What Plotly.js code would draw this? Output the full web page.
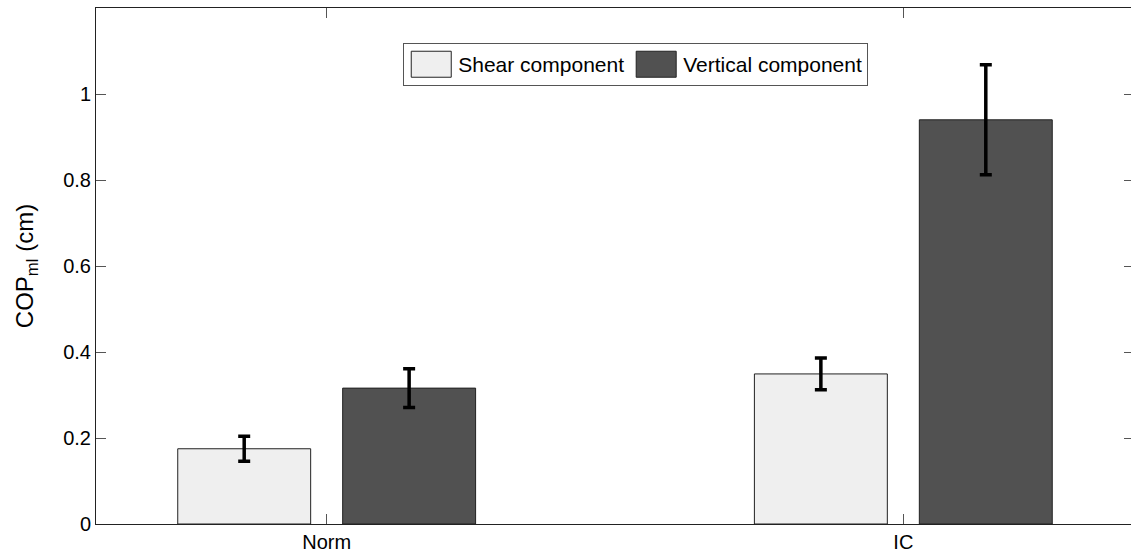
<!DOCTYPE html>
<html>
<head>
<meta charset="utf-8">
<script src="https://cdn.plot.ly/plotly-3.0.1.min.js"></script>
<style>
html,body{margin:0;padding:0;overflow:hidden;background:#fff;}
#chart{width:1134px;height:554px;}
</style>
</head>
<body>
<div id="chart"></div>
<script>
const groups = [1, 2];
const groupLabels = ["Norm", "IC"];
const shearValues = [0.175, 0.349];
const shearErrors = [0.029, 0.037];
const verticalValues = [0.316, 0.940];
const verticalErrors = [0.045, 0.128];
const yTicks = [0, 0.2, 0.4, 0.6, 0.8, 1];
const yTickLabels = ["0", "0.2", "0.4", "0.6", "0.8", "1"];

const errStyle = {type: "data", visible: true, color: "#000", thickness: 3.5, width: 6};

const traces = [
  {
    type: "bar", name: "Shear component", x: groups, y: shearValues,
    error_y: Object.assign({array: shearErrors}, errStyle),
    marker: {color: "#efefef", line: {color: "#222", width: 1}}
  },
  {
    type: "bar", name: "Vertical component", x: groups, y: verticalValues,
    error_y: Object.assign({array: verticalErrors}, errStyle),
    marker: {color: "#515151", line: {color: "#222", width: 1}}
  }
];

const layout = {
  width: 1134, height: 554,
  margin: {l: 96, r: 0, t: 8, b: 30},
  paper_bgcolor: "#fff", plot_bgcolor: "#fff",
  barmode: "group", bargap: 0.428, bargroupgap: 0.194,
  font: {family: "Liberation Sans, Arial, sans-serif", size: 20, color: "#000"},
  showlegend: true,
  legend: {
    orientation: "h", x: 0.296, y: 0.932, xanchor: "left", yanchor: "top",
    bordercolor: "#555", borderwidth: 1, bgcolor: "#fff",
    font: {size: 21}, traceorder: "normal", itemwidth: 44
  },
  xaxis: {
    range: [0.6, 2.4], tickvals: groups, ticktext: groupLabels,
    ticks: "inside", ticklen: 10, tickcolor: "#555", tickwidth: 1,
    showline: true, linecolor: "#222", linewidth: 1, mirror: "ticks",
    showgrid: false, zeroline: false, tickfont: {size: 20}
  },
  yaxis: {
    range: [0, 1.2], tickvals: yTicks, ticktext: yTickLabels,
    ticks: "inside", ticklen: 10, tickcolor: "#555", tickwidth: 1,
    showline: true, linecolor: "#222", linewidth: 1, mirror: "ticks",
    showgrid: false, zeroline: false, tickfont: {size: 20},
    title: {text: "COP<sub>ml</sub> (cm)", font: {size: 24}, standoff: 22}
  }
};

Plotly.newPlot("chart", traces, layout, {displayModeBar: false, staticPlot: true}).then(function (gd) {
  // enlarge legend swatches to MATLAB-like rectangles
  gd.querySelectorAll(".legend .legendpoints path").forEach(function (p) {
    p.setAttribute("d", "M-20,-13H20V13H-20Z");
  });
});
</script>
</body>
</html>
